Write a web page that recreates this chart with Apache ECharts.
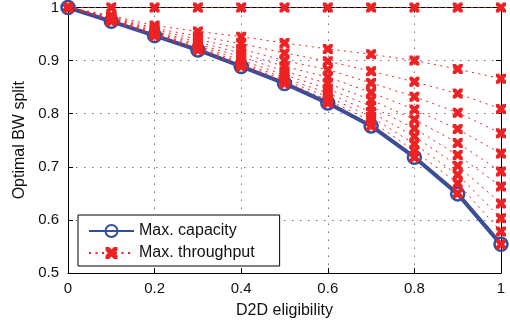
<!DOCTYPE html>
<html>
<head>
<meta charset="utf-8">
<script src="https://cdn.jsdelivr.net/npm/echarts@6/dist/echarts.min.js"></script>
<style>
  html, body { margin: 0; padding: 0; background: #fff; }
  #chart { width: 510px; height: 327px; }
</style>
</head>
<body>
<div id="chart"></div>
<script>
// D2D eligibility values
const eligibility = [0, 0.1, 0.2, 0.3, 0.4, 0.5, 0.6, 0.7, 0.8, 0.9, 1];
const xTicks = [0, 0.2, 0.4, 0.6, 0.8, 1];
const yTicks = [0.5, 0.6, 0.7, 0.8, 0.9, 1];

// Max. capacity (blue)
const capacity = [1, 0.974, 0.947, 0.920, 0.889, 0.857, 0.820, 0.777, 0.718, 0.649, 0.554];

// Max. throughput family (red, top to bottom)
const thr0 = [1, 1, 1, 1, 1, 1, 1, 1, 1, 1, 1];
const thr1 = [1, 0.985, 0.966, 0.955, 0.945, 0.933, 0.922, 0.912, 0.900, 0.884, 0.866];
const thr2 = [1, 0.983, 0.961, 0.946, 0.932, 0.914, 0.899, 0.880, 0.860, 0.838, 0.809];
const thr3 = [1, 0.981, 0.958, 0.940, 0.922, 0.900, 0.883, 0.858, 0.832, 0.802, 0.763];
const thr4 = [1, 0.980, 0.955, 0.935, 0.914, 0.889, 0.869, 0.840, 0.808, 0.771, 0.725];
const thr5 = [1, 0.979, 0.953, 0.931, 0.907, 0.880, 0.857, 0.826, 0.789, 0.745, 0.691];
const thr6 = [1, 0.978, 0.951, 0.928, 0.901, 0.873, 0.847, 0.814, 0.772, 0.722, 0.663];
const thr7 = [1, 0.977, 0.950, 0.925, 0.897, 0.867, 0.839, 0.803, 0.757, 0.702, 0.631];
const thr8 = [1, 0.976, 0.949, 0.923, 0.894, 0.863, 0.832, 0.794, 0.743, 0.685, 0.603];
const thr9 = [1, 0.975, 0.948, 0.921, 0.891, 0.860, 0.826, 0.786, 0.730, 0.669, 0.578];
const thr10 = [1, 0.974, 0.947, 0.920, 0.889, 0.857, 0.820, 0.777, 0.718, 0.650, 0.554];
const throughput = [thr0, thr1, thr2, thr3, thr4, thr5, thr6, thr7, thr8, thr9, thr10];

const BLUE = '#2f4f9f';
const RED = '#ee2222';
const FONT = 'Liberation Sans, Arial, sans-serif';
// bold "x" marker
const crossPath = 'path://M0,0L3,0L5,2L7,0L10,0L10,3L8,5L10,7L10,10L7,10L5,8L3,10L0,10L0,7L2,5L0,3Z';

const pairs = ys => eligibility.map((x, i) => [x, ys[i]]);

const chart = echarts.init(document.getElementById('chart'));

const axisCommon = {
  type: 'value',
  axisLine: { show: true, onZero: false, lineStyle: { color: '#000', width: 1 } },
  axisTick: { show: true, inside: true, length: 5, lineStyle: { color: '#000' } },
};

let series = [{
  name: 'Max. capacity',
  type: 'line',
  data: pairs(capacity),
  symbol: 'circle',
  symbolSize: 13,
  lineStyle: { color: BLUE, width: 4 },
  itemStyle: { color: 'rgba(255,255,255,0)', borderColor: BLUE, borderWidth: 2.5 },
  z: 2
}];

throughput.forEach(ys => {
  series.push({
    name: 'Max. throughput',
    type: 'line',
    data: pairs(ys),
    symbol: crossPath,
    symbolSize: 10,
    clip: false,
    lineStyle: { color: RED, width: 1, type: [2, 4.5] },
    itemStyle: { color: RED },
    z: 3
  });
});

const option = {
  animation: false,
  grid: { left: 68, right: 9, top: 6, bottom: 54, show: false },
  legend: {
    data: ['Max. capacity', 'Max. throughput'],
    orient: 'vertical',
    left: 78,
    top: 215,
    padding: [8, 25, 5, 10],
    itemGap: 6,
    itemWidth: 45,
    itemHeight: 15,
    backgroundColor: '#fff',
    borderColor: '#000',
    borderWidth: 1,
    borderRadius: 0,
    textStyle: { fontSize: 16, color: '#111', fontFamily: FONT },
    selectedMode: false
  },
  xAxis: [
    Object.assign({}, axisCommon, {
      min: 0, max: 1, interval: 0.2,
      name: 'D2D eligibility',
      nameLocation: 'middle',
      nameGap: 30,
      nameTextStyle: { fontSize: 16, color: '#111', fontFamily: FONT },
      axisLabel: {
        fontSize: 15, color: '#111', fontFamily: FONT, margin: 8,
        formatter: v => String(+v.toFixed(1))
      },
      splitLine: { show: true, lineStyle: { color: '#777', width: 1, type: [1.5, 6.5] } }
    }),
    Object.assign({}, axisCommon, {
      min: 0, max: 1, interval: 0.2, position: 'top',
      axisLabel: { show: false }, splitLine: { show: false }
    })
  ],
  yAxis: [
    Object.assign({}, axisCommon, {
      min: 0.5, max: 1, interval: 0.1,
      name: 'Optimal BW split',
      nameLocation: 'middle',
      nameGap: 40,
      nameTextStyle: { fontSize: 16, color: '#111', fontFamily: FONT },
      axisLabel: {
        fontSize: 15, color: '#111', fontFamily: FONT, margin: 9,
        formatter: v => String(+v.toFixed(1))
      },
      splitLine: { show: true, lineStyle: { color: '#777', width: 1, type: [1.5, 6.5] } }
    }),
    Object.assign({}, axisCommon, {
      min: 0.5, max: 1, interval: 0.1, position: 'right',
      axisLabel: { show: false }, splitLine: { show: false }
    })
  ],
  series: series
};

chart.setOption(option);
</script>
</body>
</html>
